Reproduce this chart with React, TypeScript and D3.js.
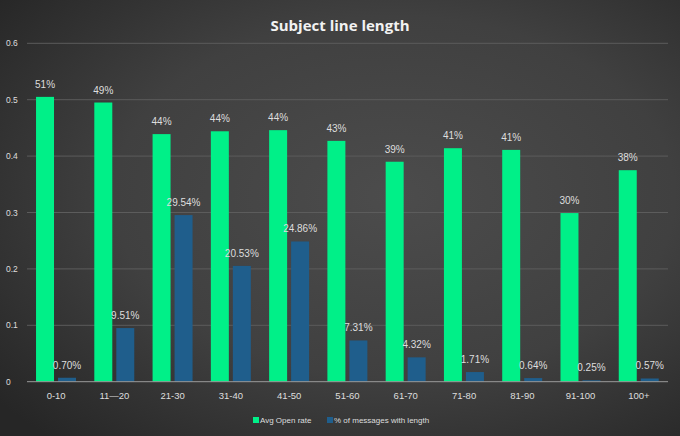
import React from "react";
import * as d3 from "d3";

const categories = ["0-10", "11\u201420", "21-30", "31-40", "41-50", "51-60", "61-70", "71-80", "81-90", "91-100", "100+"];
const openRate = [0.505, 0.495, 0.439, 0.444, 0.446, 0.427, 0.39, 0.414, 0.411, 0.299, 0.375];
const openRateLabels = ["51%", "49%", "44%", "44%", "44%", "43%", "39%", "41%", "41%", "30%", "38%"];
const msgShare = [0.007, 0.0951, 0.2954, 0.2053, 0.2486, 0.0731, 0.0432, 0.0171, 0.0064, 0.0025, 0.0057];
const msgShareLabels = ["0.70%", "9.51%", "29.54%", "20.53%", "24.86%", "7.31%", "4.32%", "1.71%", "0.64%", "0.25%", "0.57%"];
const yTicks = [0, 0.1, 0.2, 0.3, 0.4, 0.5, 0.6];
const seriesNames = ["Avg Open rate", "% of messages with length"];

const W = 680, H = 436;
const GREEN = "#00f088";
const BLUE = "#1f5e8c";
const TEXT = "#dedede";

export default function App() {
  const x = d3.scaleBand<string>().domain(categories).range([27, 668]).paddingInner(0).paddingOuter(0);
  const bwCat = x.bandwidth();
  const inner = d3.scaleBand<number>().domain([0, 1]).range([bwCat * 0.155, bwCat * 0.155 + bwCat * 0.686]).paddingInner(4 / 22).paddingOuter(0);
  const y = d3.scaleLinear().domain([0, 0.6]).range([381.7, 43.3]);
  const font = "'Liberation Sans', Arial, sans-serif";
  return (
    <svg width={W} height={H} style={{ position: "absolute", left: 0, top: 0 }}>
      <defs>
        <radialGradient id="bg" cx="0.58" cy="0.45" r="0.75">
          <stop offset="0" stopColor="#4c4c4c" />
          <stop offset="0.55" stopColor="#404040" />
          <stop offset="1" stopColor="#262626" />
        </radialGradient>
      </defs>
      <rect x={0} y={0} width={W} height={H} fill="url(#bg)" />
      <text x={340} y={31} textAnchor="middle" fill="#f2f2f2" fontFamily="'Open Sans', sans-serif" fontWeight="bold" fontSize={15}>
        Subject line length
      </text>
      {yTicks.map((t) => (
        <g key={t}>
          {t > 0 && <line x1={27} x2={668} y1={y(t)} y2={y(t)} stroke="#5c5c5c" strokeWidth={1} />}
          <text x={6} y={y(t) + 3} fill={TEXT} fontFamily={font} fontSize={8.5}>
            {t === 0 ? "0" : t.toFixed(1)}
          </text>
        </g>
      ))}
      {categories.map((c, i) => {
        const x0 = x(c)!;
        const gx = x0 + inner(0)!;
        const bx = x0 + inner(1)!;
        const bw = inner.bandwidth();
        return (
          <g key={c}>
            <rect x={gx} y={y(openRate[i])} width={bw} height={y(0) - y(openRate[i])} fill={GREEN} />
            <rect x={bx} y={y(msgShare[i])} width={bw} height={y(0) - y(msgShare[i])} fill={BLUE} />
            <text x={gx + bw / 2} y={y(openRate[i]) - 9} textAnchor="middle" fill={TEXT} fontFamily={font} fontSize={10}>
              {openRateLabels[i]}
            </text>
            <text x={bx + bw / 2} y={y(msgShare[i]) - 9} textAnchor="middle" fill={TEXT} fontFamily={font} fontSize={10}>
              {msgShareLabels[i]}
            </text>
            <text x={x0 + bwCat / 2} y={399} textAnchor="middle" fill={TEXT} fontFamily={font} fontSize={9.5}>
              {c}
            </text>
          </g>
        );
      })}
      <line x1={27} x2={668} y1={y(0)} y2={y(0)} stroke="#9a9a9a" strokeWidth={1} />
      <g fontFamily={font} fontSize={8} fill={TEXT}>
        <rect x={253} y={417} width={6} height={6} fill={GREEN} />
        <text x={260} y={423}>{seriesNames[0]}</text>
        <rect x={327} y={417} width={6} height={6} fill={BLUE} />
        <text x={334} y={423}>{seriesNames[1]}</text>
      </g>
    </svg>
  );
}
